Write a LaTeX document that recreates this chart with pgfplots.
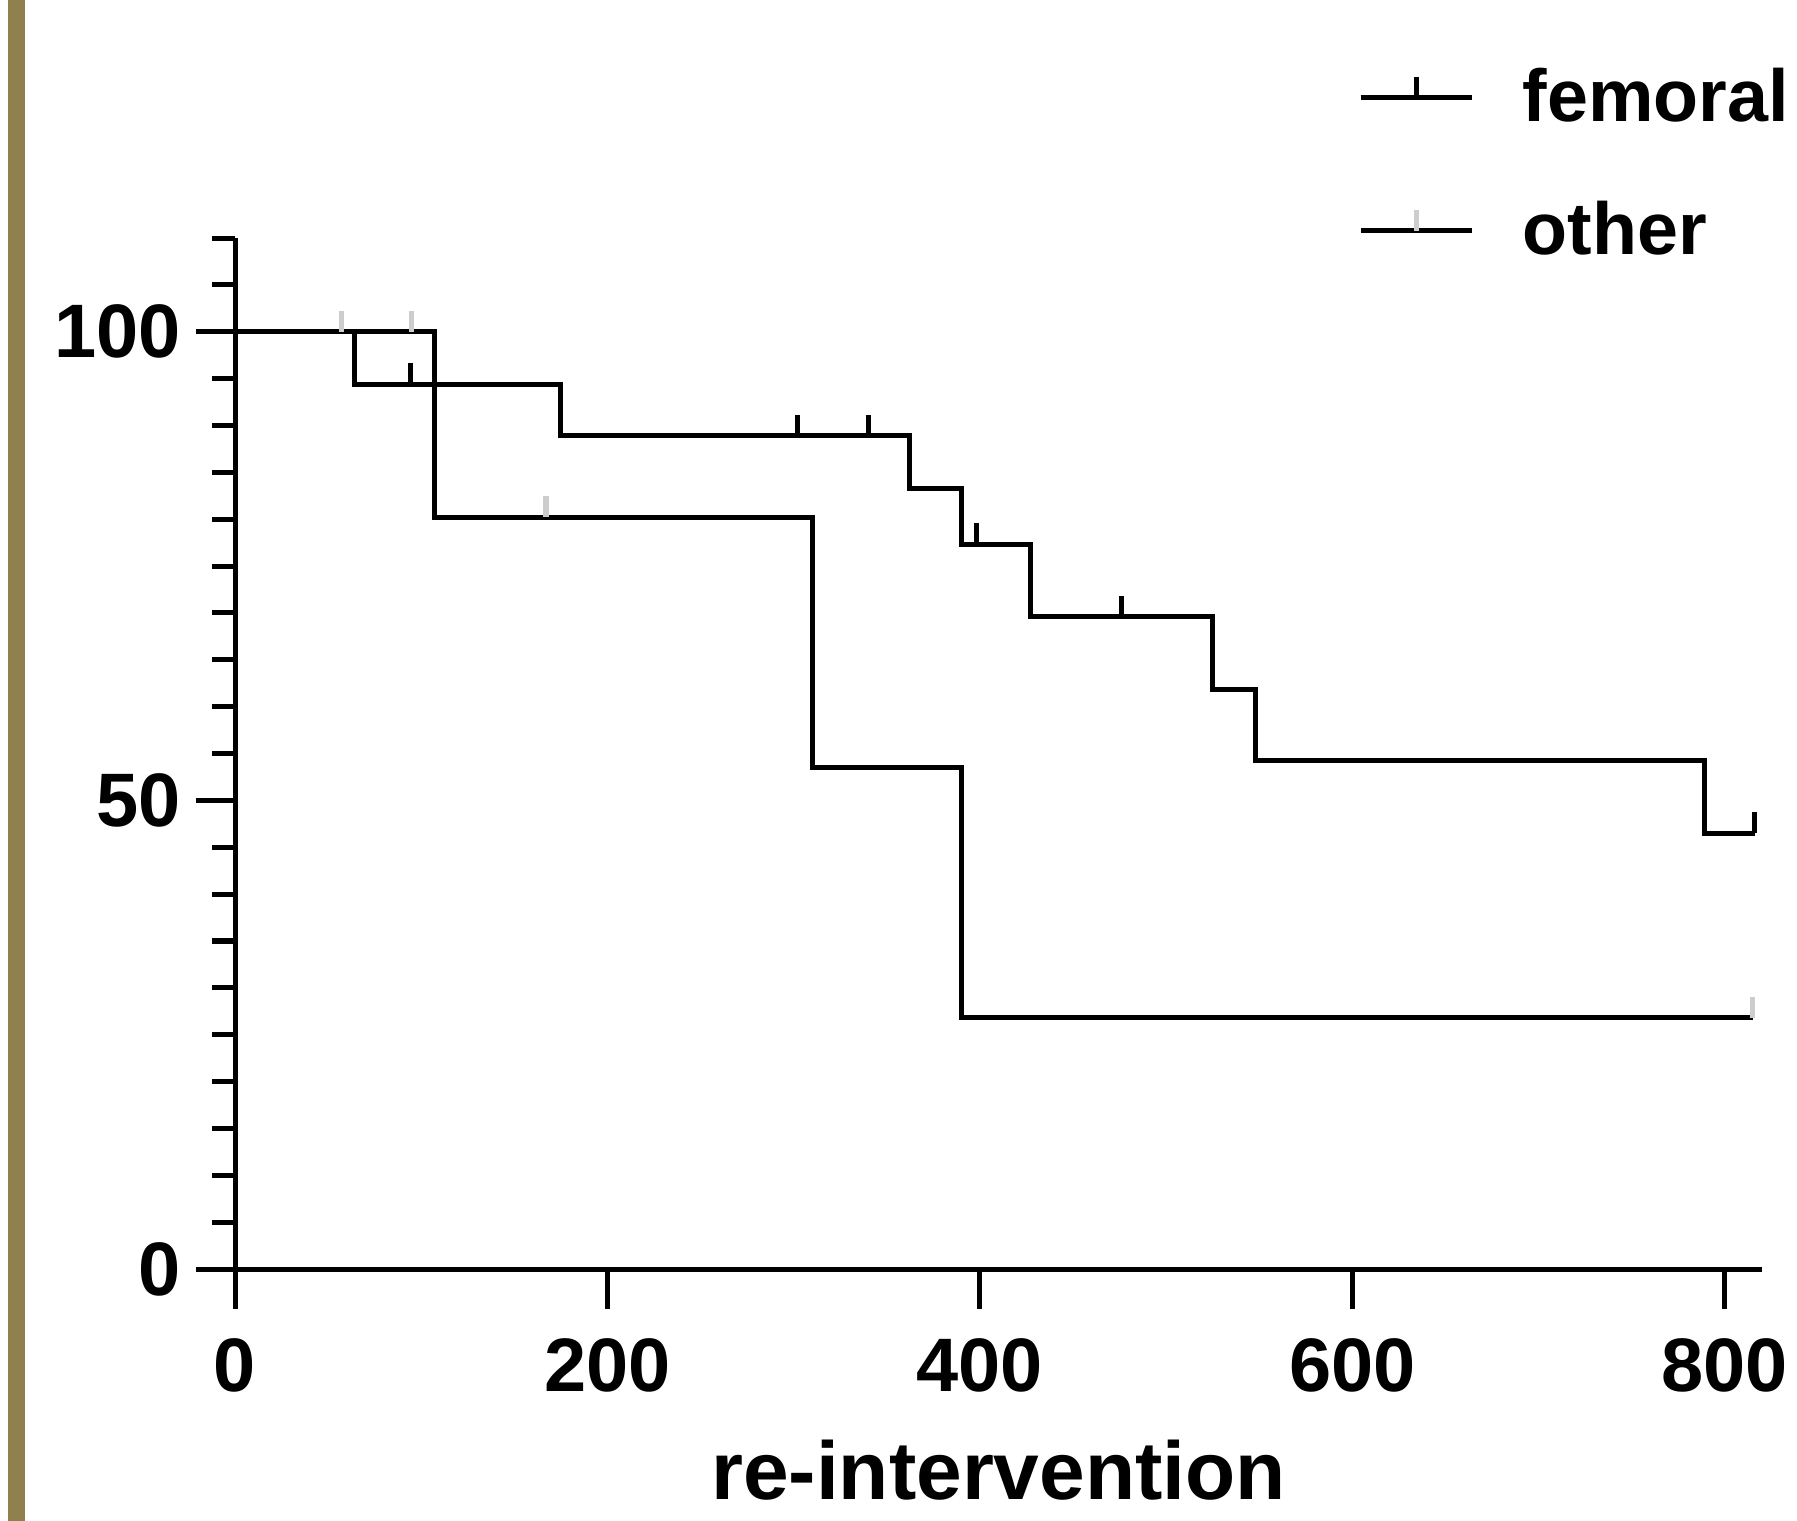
\documentclass[border=0pt]{standalone}
\usepackage{pgfplots}
\pgfplotsset{compat=1.18}
\usepackage{fontspec}
\setmainfont{Liberation Sans}
\definecolor{olivebar}{RGB}{143,128,78}
\definecolor{faint}{RGB}{205,205,205}
% censoring tick: short stroke going up from the curve
\pgfdeclareplotmark{cens}{\pgfpathmoveto{\pgfpointorigin}\pgfpathlineto{\pgfpoint{0pt}{5pt}}\pgfusepathqstroke}

\begin{document}
\begin{tikzpicture}
\useasboundingbox (0,0) rectangle (15cm,12.696cm);
\fill[olivebar] (0.067cm,0) rectangle (0.209cm,12.696cm);
\begin{axis}[
    at={(1.962cm,2.103cm)}, anchor=south west,
    scale only axis, width=12.746cm, height=8.606cm,
    xmin=0, xmax=820, ymin=0, ymax=110,
    axis lines=left,
    axis line style={-, line width=1.2pt},
    xtick={0,200,...,800},
    ytick={0,50,100},
    minor ytick={0,5,...,110},
    tick align=outside,
    major tick length=0.33cm,
    minor tick length=0.19cm,
    every tick/.append style={black, line width=1.2pt},
    tick label style={font=\fontsize{18}{20}\selectfont\bfseries},
    xticklabel style={yshift=-0.13cm},
    /pgf/number format/assume math mode=true,
    xlabel={re-intervention},
    xlabel style={font=\fontsize{19.5}{22}\selectfont\bfseries, yshift=-0.15cm},
    legend style={at={(axis description cs:0.735,1.174)}, anchor=north west,
        draw=none, fill=none, inner sep=0pt,
        font=\fontsize{17.5}{20}\selectfont\bfseries, row sep=0.47cm},
    legend cell align=left,
]
\addplot[const plot, black, line width=1.2pt,
    legend image code/.code={
        \draw[line width=1.2pt] (0cm,0cm) -- (0.93cm,0cm);
        \draw[line width=1.2pt] (0.465cm,0cm) -- (0.465cm,5pt);
        \path (1.26cm,0cm);}]
    coordinates {(0,100) (64,94.4) (175,88.9) (362,83.3) (390,77.3)
                 (427,69.6) (525,61.8) (548,54.3) (789,46.5) (816,46.5)};
\addlegendentry{femoral}
\addplot[const plot, black, line width=1.2pt,
    legend image code/.code={
        \draw[line width=1.2pt] (0cm,0cm) -- (0.93cm,0cm);
        \draw[faint, line width=1.2pt] (0.465cm,0cm) -- (0.465cm,5pt);
        \path (1.26cm,0cm);}]
    coordinates {(0,100) (107,80.2) (310,53.5) (390,26.8) (815,26.8)};
\addlegendentry{other}
% censored observations
\addplot[only marks, mark=cens, black, mark options={line width=1.2pt}, forget plot]
    coordinates {(94,94.4) (302,88.9) (340,88.9) (398,77.3) (476,69.6) (816,46.5)};
\addplot[only marks, mark=cens, faint, mark options={line width=1.2pt}, forget plot]
    coordinates {(57,100) (95,100) (167,80.2) (815,26.8)};
\end{axis}
\end{tikzpicture}
\end{document}
